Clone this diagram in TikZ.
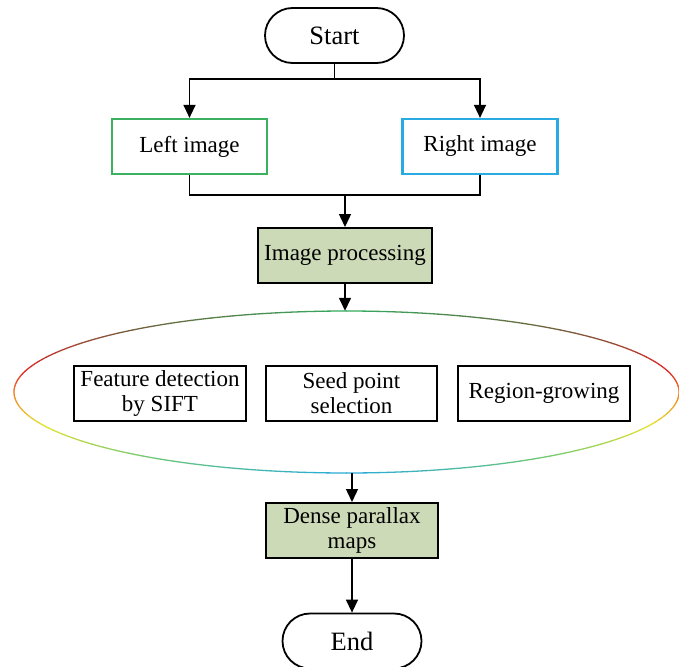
\documentclass[tikz,border=0pt]{standalone}
\usepackage{fontspec}
\setmainfont{Liberation Serif}
\usetikzlibrary{shapes.misc,shapes.geometric,arrows.meta}
\definecolor{cGreenBox}{RGB}{59,176,95}
\definecolor{cBlueBox}{RGB}{41,171,226}
\definecolor{cFill}{RGB}{205,218,183}
\definecolor{cG}{RGB}{50,172,95}
\definecolor{cBr}{RGB}{115,95,60}
\definecolor{cR}{RGB}{225,40,40}
\definecolor{cO}{RGB}{240,125,40}
\definecolor{cY}{RGB}{230,228,50}
\definecolor{cLG}{RGB}{110,200,120}
\definecolor{cC}{RGB}{40,170,220}
\begin{document}
\begin{tikzpicture}[x=1pt,y=-1pt,
  every node/.style={font=\fontsize{23}{26}\selectfont, inner sep=0pt, align=center},
  term/.style={rounded rectangle, draw, line width=1.8pt, minimum width=139pt, minimum height=55pt, font=\fontsize{26.5}{30}\selectfont},
  imgbox/.style={rectangle, draw, line width=2.2pt, minimum width=155pt, minimum height=55pt},
  procbox/.style={rectangle, draw, fill=cFill, line width=2pt, minimum width=172pt, minimum height=55pt},
  subbox/.style={rectangle, draw, line width=1.5pt, minimum width=171pt, minimum height=55pt},
  conn/.style={line width=1.4pt},
  arr/.style={conn, -{Triangle[width=12pt,length=13pt]}}
]
\useasboundingbox (0,0) rectangle (679,666);
\fill[white] (0,0) rectangle (679,666);

\node[term] (start) at (334.5,35.5) {Start};
\node[imgbox, draw=cGreenBox] (left) at (189.5,146.5) {Left image};
\node[imgbox, draw=cBlueBox] (right) at (480,146.5) {Right image};
\node[procbox, minimum width=174pt] (proc) at (345,255.5) {Image processing};
\node[ellipse, minimum width=665pt, minimum height=162pt] (ell) at (346.5,392) {};
\node[subbox, minimum width=172pt] (feat) at (160,393.5) {Feature detection\\[-1pt]by SIFT};
\node[subbox] (seed) at (351.5,393.5) {Seed point\\[-1pt]selection};
\node[subbox, minimum width=172pt] (region) at (544,393.5) {Region-growing};
\node[procbox] (dense) at (352,530.5) {Dense parallax\\[-1pt]maps};
\node[term] (end) at (352,641) {End};

% gradient outline of the ellipse
\foreach \ta/\tb/\ca/\cb in {0/40/cG/cBr, 40/75/cBr/cR, 75/90/cR/cO, 90/115/cO/cY, 115/145/cY/cLG, 145/180/cLG/cC} {
  \foreach \i in {0,...,9} {
    \pgfmathsetmacro\s{\ta+(\tb-\ta)*\i/10}
    \pgfmathsetmacro\e{\ta+(\tb-\ta)*(\i+1)/10}
    \pgfmathtruncatemacro\p{100*(\i+0.5)/10}
    \draw[line width=1.3pt, line cap=round, color=\cb!\p!\ca]
      plot[domain=90+\s:90+\e, samples=4] ({346.5+332.5*cos(\x)},{392-81*sin(\x)});
    \draw[line width=1.3pt, line cap=round, color=\cb!\p!\ca]
      plot[domain=90-\s:90-\e, samples=4] ({346.5+332.5*cos(\x)},{392-81*sin(\x)});
  }
}

\coordinate (split) at (334.5,79);
\coordinate (merge) at (345,195);
\draw[conn] (start.south) -- (split);
\draw[arr] (split) -| (left.north);
\draw[arr] (split) -| (right.north);
\draw[conn] (left.south) |- (merge);
\draw[conn] (right.south) |- (merge);
\draw[arr] (merge) -- (proc.north);
\draw[arr] (proc.south) -- (proc.south |- ell.north);
\draw[arr] (ell.south -| dense.north) -- (dense.north);
\draw[arr] (dense.south) -- (end.north);
\end{tikzpicture}
\end{document}
